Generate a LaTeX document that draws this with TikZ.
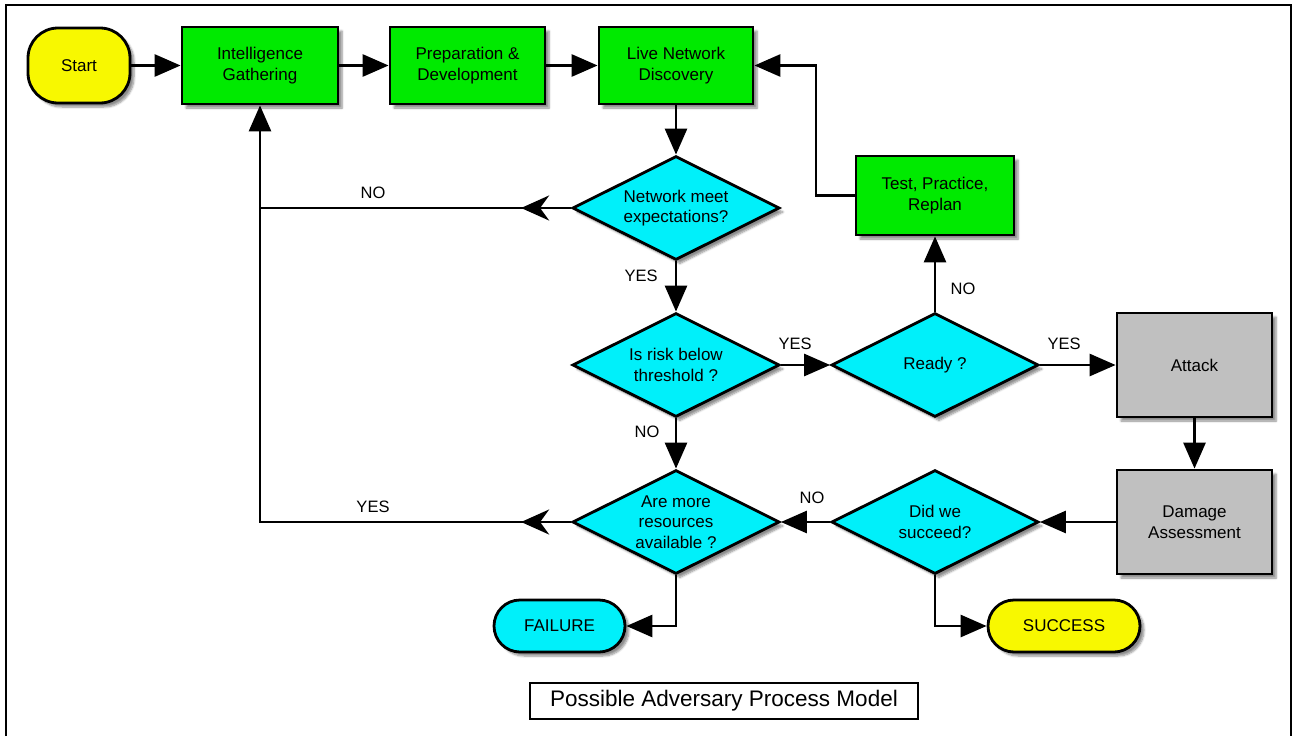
\documentclass[tikz,border=0pt]{standalone}
\usepackage{fontspec}
\setmainfont{Liberation Sans}
\usetikzlibrary{shapes.geometric,shapes.misc,arrows.meta,shadows.blur,decorations.markings}
\definecolor{pgreen}{RGB}{0,234,0}
\definecolor{pcyan}{RGB}{0,240,250}
\definecolor{pyellow}{RGB}{248,248,0}
\definecolor{pgray}{RGB}{192,192,192}
\tikzset{
  base/.style={draw=black, line width=2.8pt, align=center, inner sep=0pt,
    blur shadow={shadow xshift=4pt, shadow yshift=-4pt, shadow blur steps=6, shadow opacity=45}},
  procbox/.style={base, rectangle, fill=pgreen},
  graybox/.style={base, rectangle, fill=pgray, minimum width=155pt, minimum height=104pt},
  decide/.style={base, diamond, fill=pcyan, aspect=2, minimum width=207pt, minimum height=104pt},
  terminal/.style={base, rectangle, rounded corners=26pt, minimum height=52pt},
  conn/.style={line width=2.8pt, -{Triangle[length=26pt,width=22pt]}},
  plain/.style={line width=2.8pt},
  midarrow/.style={postaction={decorate}, decoration={markings,
    mark=at position 50pt with {\arrow{Stealth[length=28pt,width=25pt,inset=9pt]}}}},
  lbl/.style={font=\fontsize{16.5}{19}\selectfont, inner sep=0pt}
}
\begin{document}
\begin{tikzpicture}[x=1pt,y=-1pt, font=\fontsize{17}{20.5}\selectfont]
\useasboundingbox (0,0) rectangle (1295,736);
\draw[line width=2pt] (6,736) -- (6,5) -- (1291,5) -- (1291,736);

\node[base, rectangle, rounded corners=30pt, fill=pyellow, minimum width=102pt, minimum height=75pt] (start) at (79,65.5) {Start};
\node[procbox, minimum width=156pt, minimum height=77pt] (ig) at (260,65.5) {Intelligence\\Gathering};
\node[procbox, minimum width=155pt, minimum height=77pt] (prep) at (467.5,65.5) {Preparation \&\\Development};
\node[procbox, minimum width=154pt, minimum height=77pt] (lnd) at (676,65.5) {Live Network\\Discovery};
\node[decide] (d1) at (676,208) {Network meet\\expectations?};
\node[procbox, minimum width=158pt, minimum height=79pt] (tpr) at (935,195.5) {Test, Practice,\\Replan};
\node[decide] (d2) at (676,365) {Is risk below\\threshold ?};
\node[decide] (ready) at (935,365) {Ready ?};
\node[graybox] (attack) at (1194.5,365) {Attack};
\node[graybox] (dmg) at (1194.5,522) {Damage\\Assessment};
\node[decide] (dws) at (935,522) {Did we\\succeed?};
\node[decide] (d3) at (676,522) {Are more\\resources\\available ?};
\node[terminal, fill=pcyan, minimum width=131pt] (fail) at (559.5,626) {FAILURE};
\node[terminal, fill=pyellow, minimum width=152pt] (succ) at (1064,626) {SUCCESS};
\node[draw, line width=2pt, minimum width=388pt, minimum height=36pt, inner sep=0pt, font=\fontsize{22.5}{26}\selectfont] (cap) at (724,701) {Possible Adversary Process Model};

\coordinate (jn) at (260,208);
\coordinate (jy) at (260,522);
\coordinate (tb) at (816,195.5);

\draw[conn] (start) -- (ig);
\draw[conn] (ig) -- (prep);
\draw[conn] (prep) -- (lnd);
\draw[conn] (lnd) -- (d1);
\draw[plain, midarrow] (d1.west) -- (jn);
\draw[conn] (d1) -- (d2);
\draw[conn] (d2.east) -- (ready.west);
\draw[conn] (d2) -- (d3);
\draw[conn] (ready) -- (tpr);
\draw[conn] (tpr.west) -- (tb) |- (lnd.east);
\draw[conn] (ready.east) -- (attack.west);
\draw[conn] (attack) -- (dmg);
\draw[conn] (dmg.west) -- (dws.east);
\draw[conn] (dws.west) -- (d3.east);
\draw[conn, midarrow] (d3.west) -- (jy) -- (ig.south);
\draw[conn] (d3.south) |- (fail.east);
\draw[conn] (dws.south) |- (succ.west);

\node[lbl] at (373,193) {NO};
\node[lbl] at (641,276) {YES};
\node[lbl] at (795,344) {YES};
\node[lbl] at (647,432) {NO};
\node[lbl] at (963,289) {NO};
\node[lbl] at (1064,344) {YES};
\node[lbl] at (812,498) {NO};
\node[lbl] at (373,507) {YES};
\end{tikzpicture}
\end{document}
